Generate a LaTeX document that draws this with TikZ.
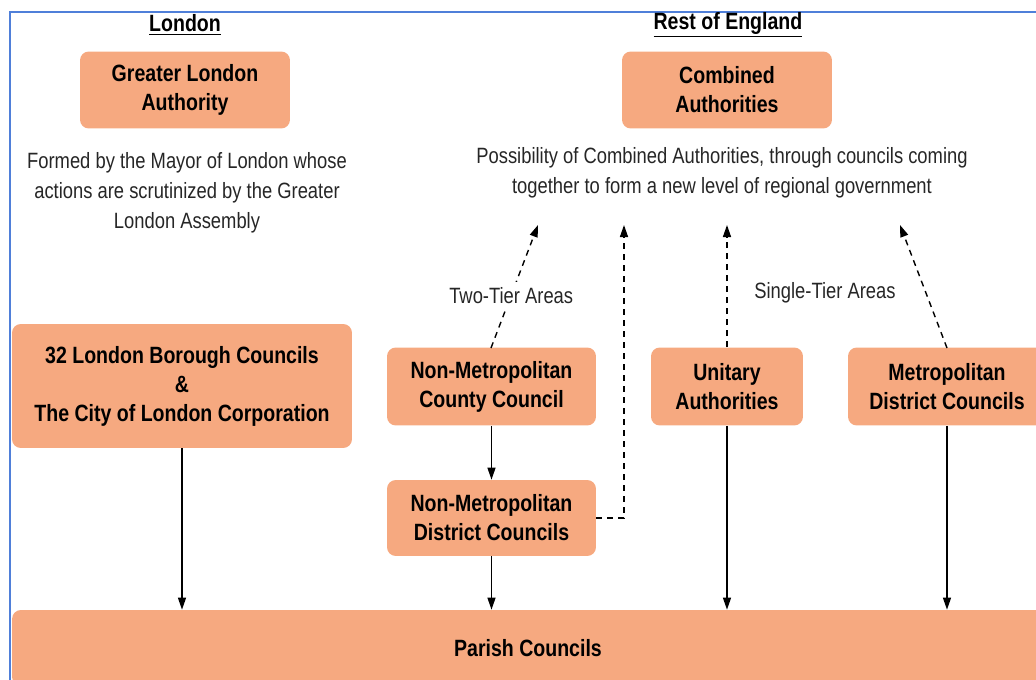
\documentclass[tikz,border=0pt]{standalone}
\usepackage{fontspec}
\setmainfont{Liberation Sans}[FakeStretch=0.83]
\usepackage{xcolor}
\usepackage{tikz}
\usetikzlibrary{positioning,arrows.meta}

\definecolor{boxfill}{HTML}{F6A980}
\definecolor{framebl}{HTML}{4F7FD9}

\begin{document}
\begin{tikzpicture}[
  x=0.02cm, y=-0.02cm,
  every node/.style={font=\fontsize{12.6}{17}\selectfont, text=black!85},
  orgbox/.style={fill=boxfill, rounded corners=5pt, align=center, inner sep=0pt,
    text=black, font=\fontsize{13.4}{16.5}\selectfont\bfseries},
  heading/.style={font=\fontsize{13.4}{15}\selectfont\bfseries, text=black},
  note/.style={align=center},
  tip/.style={-{Triangle[length=2.4mm,width=1.6mm]}},
  link/.style={tip, line width=0.8pt},
  maybe/.style={tip, line width=0.8pt, dash pattern=on 1.2mm off 1mm}]
  \useasboundingbox (0,0) rectangle (1036,680);
  \clip (0,0) rectangle (1036,680);
  \draw[framebl, line width=0.8pt] (10,680) -- (10,12) -- (1040,12);

  \node[heading] (lonhead) at (185,25) {\underline{London}};
  \node[heading] (resthead) at (728,25) {\underline{Rest of England}};

  \node[orgbox, minimum width=4.2cm, minimum height=1.54cm] (gla) at (185,90) {Greater London\\Authority};
  \node[orgbox, minimum width=4.2cm, minimum height=1.54cm] (ca) at (727,90) {Combined\\Authorities};
  \node[note] (glanote) at (187,193) {Formed by the Mayor of London whose\\actions are scrutinized by the Greater\\London Assembly};
  \node[note] (canote) at (722,173) {Possibility of Combined Authorities, through councils coming\\together to form a new level of regional government};

  \node[orgbox, minimum width=6.8cm, minimum height=2.48cm] (lbc) at (182,386) {32 London Borough Councils\\\&\\The City of London Corporation};
  \node[orgbox, minimum width=4.18cm, minimum height=1.56cm] (nmcc) at (491.5,386.5) {Non-Metropolitan\\County Council};
  \node[orgbox, minimum width=3.04cm, minimum height=1.56cm] (ua) at (727,386.5) {Unitary\\Authorities};
  \node[orgbox, minimum width=3.96cm, minimum height=1.56cm] (mdc) at (947,386.5) {Metropolitan\\District Councils};
  \node[orgbox, minimum width=4.18cm, minimum height=1.52cm] (nmdc) at (491.5,518) {Non-Metropolitan\\District Councils};
  \node[orgbox, minimum width=20.64cm, minimum height=1.52cm] (pc) at (528,648) {Parish Councils};

  \coordinate (twoend) at (538,225);
  \coordinate (bend) at (624,518);
  \coordinate (distend) at (624,225);
  \coordinate (unitend) at (727,225);
  \coordinate (metroend) at (900,225);
  \node (singlelbl) at (825,293) {Single-Tier Areas};

  \draw[link] (lbc.south) -- (lbc.south |- pc.north);
  \draw[link] (nmcc) -- (nmdc);
  \draw[link] (nmdc) -- (nmdc.south |- pc.north);
  \draw[link] (ua) -- (ua.south |- pc.north);
  \draw[link] (mdc) -- (mdc.south |- pc.north);

  \draw[maybe] (491,348) -- node[fill=white, inner sep=3pt, pos=0.43] (twolbl) {Two-Tier Areas} (twoend);
  \draw[maybe] (nmdc.east) -- (bend) -- (distend);
  \draw[maybe] (ua.north) -- (unitend);
  \draw[maybe] (947,348) -- (metroend);
\end{tikzpicture}
\end{document}
